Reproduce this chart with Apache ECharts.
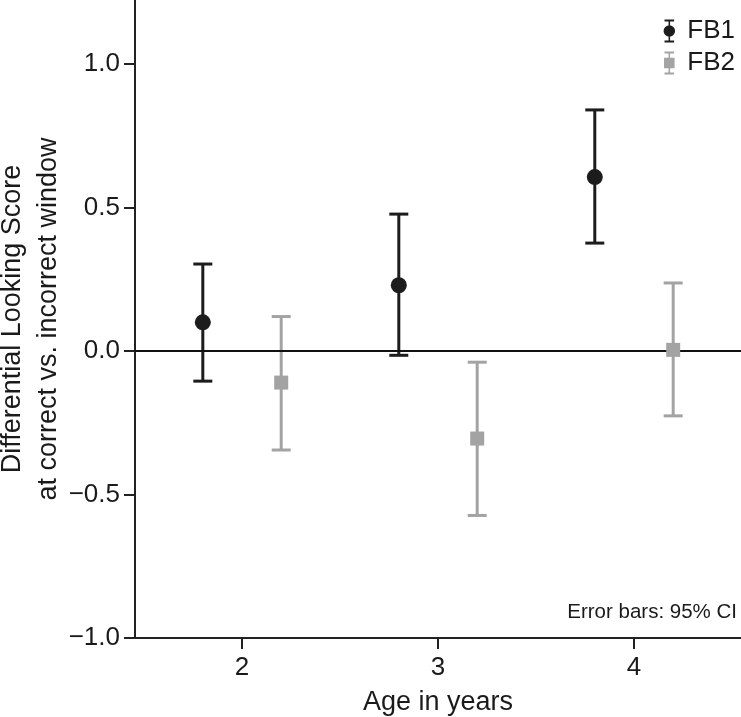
<!DOCTYPE html>
<html>
<head>
<meta charset="utf-8">
<script src="https://cdn.jsdelivr.net/npm/echarts@6/dist/echarts.min.js"></script>
<style>
  html, body { margin: 0; padding: 0; background: #ffffff; }
  #chart { width: 741px; height: 717px; }
</style>
</head>
<body>
<div id="chart"></div>
<script>
// ---- data ----
const ages = [2, 3, 4];
const fb1Mean = [0.100, 0.229, 0.606];
const fb1Low  = [-0.105, -0.015, 0.376];
const fb1High = [0.303, 0.477, 0.840];
const fb2Mean = [-0.110, -0.305, 0.004];
const fb2Low  = [-0.345, -0.573, -0.226];
const fb2High = [0.120, -0.039, 0.237];
const xTickValues = [2, 3, 4];
const yTickValues = [-1, -0.5, 0, 0.5, 1];
const seriesNames = ['FB1', 'FB2'];
const noteText = 'Error bars: 95% CI';
const xName = 'Age in years';
const yName = 'Differential Looking Score\nat correct vs. incorrect window';

// ---- style ----
const FONT = '"Liberation Sans", Arial, Helvetica, sans-serif';
const C1 = '#1c1c1c';
const C2 = '#a3a3a3';
const TXT = '#1a1a1a';
const DODGE = 0.2;

const chart = echarts.init(document.getElementById('chart'), null, { renderer: 'canvas' });

function errorRender(color) {
  return function (params, api) {
    const x = api.value(0), lo = api.value(1), hi = api.value(2);
    const pLo = api.coord([x, lo]);
    const pHi = api.coord([x, hi]);
    const hw = 9.5;
    const st = { stroke: color, lineWidth: 3, fill: null };
    return {
      type: 'group',
      children: [
        { type: 'line', shape: { x1: pLo[0], y1: pLo[1], x2: pHi[0], y2: pHi[1] }, style: st },
        { type: 'line', shape: { x1: pHi[0] - hw, y1: pHi[1], x2: pHi[0] + hw, y2: pHi[1] }, style: st },
        { type: 'line', shape: { x1: pLo[0] - hw, y1: pLo[1], x2: pLo[0] + hw, y2: pLo[1] }, style: st }
      ]
    };
  };
}

const iconCircle = 'path://M1,0 L11,0 L11,2 L1,2 Z M5.2,2 L6.8,2 L6.8,7 L5.2,7 Z M5.2,17 L6.8,17 L6.8,22 L5.2,22 Z M1,22 L11,22 L11,24 L1,24 Z M0,12 A6,6 0 1 1 12,12 A6,6 0 1 1 0,12 Z';
const iconSquare = 'path://M1,0 L11,0 L11,2 L1,2 Z M5.2,2 L6.8,2 L6.8,6.5 L5.2,6.5 Z M5.2,17.5 L6.8,17.5 L6.8,22 L5.2,22 Z M1,22 L11,22 L11,24 L1,24 Z M0.5,6.5 L11.5,6.5 L11.5,17.5 L0.5,17.5 Z';

const option = {
  backgroundColor: '#ffffff',
  animation: false,
  textStyle: { fontFamily: FONT },
  grid: { left: 135, right: 0, top: 0, bottom: 79, containLabel: false, outerBoundsMode: 'none' },
  legend: {
    orient: 'vertical',
    right: 1,
    top: 13,
    itemWidth: 12,
    itemHeight: 23,
    itemGap: 6,
    textStyle: { fontSize: 26, color: TXT, fontFamily: FONT, padding: [0, 0, 0, 7] },
    data: [
      { name: seriesNames[0], icon: iconCircle },
      { name: seriesNames[1], icon: iconSquare }
    ]
  },
  xAxis: {
    type: 'value',
    min: 1.454,
    max: 4.546,
    name: xName,
    nameLocation: 'middle',
    nameGap: 51,
    nameTextStyle: { fontSize: 27, color: TXT, fontFamily: FONT },
    axisLine: { show: true, onZero: false, lineStyle: { color: '#222', width: 2 } },
    axisTick: { show: true, length: 11, customValues: xTickValues, lineStyle: { color: '#222', width: 2 } },
    axisLabel: { customValues: xTickValues, fontSize: 26, color: TXT, margin: 17, fontFamily: FONT },
    splitLine: { show: false }
  },
  yAxis: {
    type: 'value',
    min: -1,
    max: 1.223,
    name: yName,
    nameLocation: 'middle',
    nameGap: 68,
    nameMoveOverlap: false,
    nameTextStyle: { fontSize: 27, color: TXT, lineHeight: 36, fontFamily: FONT },
    axisLine: { show: true, onZero: false, lineStyle: { color: '#222', width: 2 } },
    axisTick: { show: true, length: 11, customValues: yTickValues, lineStyle: { color: '#222', width: 2 } },
    axisLabel: {
      customValues: yTickValues,
      fontSize: 26, color: TXT, margin: 15, fontFamily: FONT,
      formatter: function (v) { return (v < 0 ? '\u2212' : '') + Math.abs(v).toFixed(1); }
    },
    splitLine: { show: false }
  },
  graphic: [
    {
      type: 'text',
      right: 4,
      top: 602,
      style: { text: noteText, fontSize: 20.5, fill: TXT, font: '20.5px ' + FONT }
    }
  ],
  series: [
    {
      name: seriesNames[0] + ' CI',
      type: 'custom',
      z: 2,
      renderItem: errorRender(C1),
      encode: { x: 0, y: [1, 2] },
      data: ages.map((a, i) => [a - DODGE, fb1Low[i], fb1High[i]]),
      markLine: {
        silent: true,
        symbol: 'none',
        label: { show: false },
        lineStyle: { color: '#111', width: 2, type: 'solid' },
        data: [{ yAxis: 0 }]
      }
    },
    {
      name: seriesNames[1] + ' CI',
      type: 'custom',
      z: 2,
      renderItem: errorRender(C2),
      encode: { x: 0, y: [1, 2] },
      data: ages.map((a, i) => [a + DODGE, fb2Low[i], fb2High[i]])
    },
    {
      name: seriesNames[0],
      type: 'scatter',
      z: 5,
      symbol: 'circle',
      symbolSize: 16,
      itemStyle: { color: C1, opacity: 1 },
      data: ages.map((a, i) => [a - DODGE, fb1Mean[i]])
    },
    {
      name: seriesNames[1],
      type: 'scatter',
      z: 5,
      symbol: 'rect',
      symbolSize: 14,
      itemStyle: { color: C2, opacity: 1 },
      data: ages.map((a, i) => [a + DODGE, fb2Mean[i]])
    }
  ]
};

chart.setOption(option);
</script>
</body>
</html>
